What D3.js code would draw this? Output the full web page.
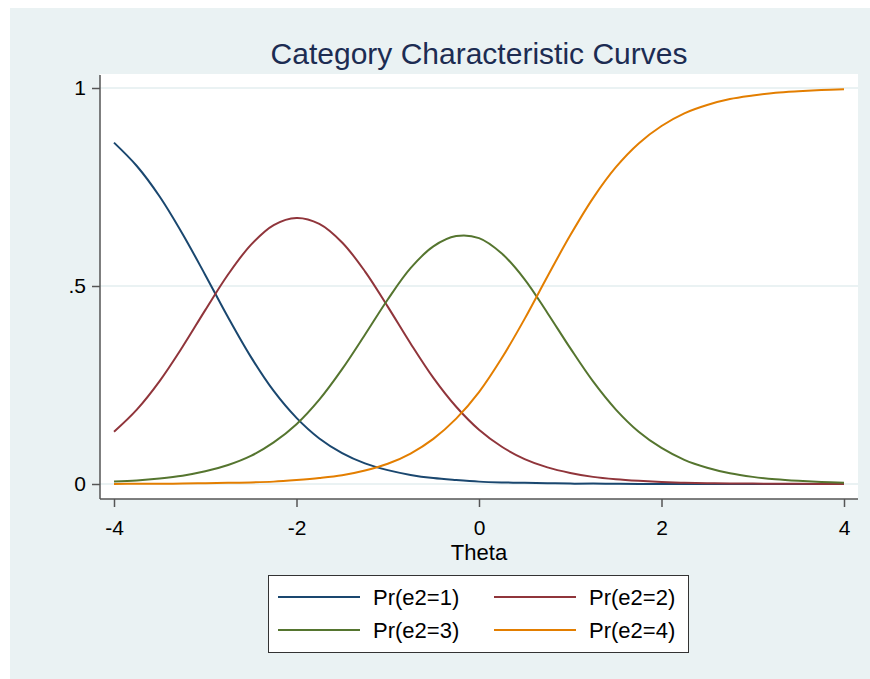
<!DOCTYPE html>
<html>
<head>
<meta charset="utf-8">
<script src="https://cdn.jsdelivr.net/npm/d3@7"></script>
<style>
  html, body { margin: 0; padding: 0; background: #fff; }
  svg { display: block; }
</style>
</head>
<body>
<script>
const width = 870, height = 679

// theta grid, read every 0.25
const theta = d3.range(33).map(i => -4 + i * 0.25)

const pr1 = [.862, .803, .726, .632, .528, .421, .321, .235, .167, .115, .078, .052, .035, .023, .015, .010,
  .006, .004, .003, .002, .001, .001, .0005, .0003, .0002, 0, 0, 0, 0, 0, 0, 0, 0]
const pr2 = [.132, .188, .260, .346, .439, .529, .604, .654, .672, .657, .610, .537, .448, .355, .268, .195,
  .137, .094, .063, .042, .028, .018, .012, .008, .005, .003, .002, .0015, .001, .0006, .0004, .0003, .0002]
const pr3 = [.006, .009, .014, .021, .032, .048, .071, .105, .151, .213, .290, .377, .466, .545, .600, .626,
  .621, .582, .517, .432, .343, .259, .188, .132, .091, .061, .041, .027, .018, .012, .008, .005, .003]
const pr4 = [.0003, .0005, .0007, .001, .002, .003, .004, .006, .010, .015, .022, .034, .051, .077, .114, .165,
  .232, .318, .417, .524, .628, .722, .800, .860, .904, .936, .957, .972, .981, .988, .992, .995, .997]

const seriesNames = ['Pr(e2=1)', 'Pr(e2=2)', 'Pr(e2=3)', 'Pr(e2=4)']
const seriesValues = [pr1, pr2, pr3, pr4]
const colors = ['#1a476f', '#90353b', '#55752f', '#e37e00']

const xTicks = [-4, -2, 0, 2, 4]
const yTicks = [0, .5, 1]
const yTickLabels = ['0', '.5', '1']

const x = d3.scaleLinear().domain([-4, 4]).range([114, 844])
const y = d3.scaleLinear().domain([0, 1]).range([484, 88])

const svg = d3.select('body')
  .append('svg')
  .attr('width', width)
  .attr('height', height)
  .style('font-family', 'Arial, "Liberation Sans", sans-serif')

// outer background
svg.append('rect')
  .attr('x', 10).attr('y', 8)
  .attr('width', width - 10).attr('height', height - 8)
  .attr('fill', '#eaf2f3')

// plot region
svg.append('rect')
  .attr('x', 100).attr('y', 74)
  .attr('width', 758).attr('height', 425)
  .attr('fill', '#fff')

svg.append('g')
  .selectAll('line').data(yTicks).enter()
  .append('line')
  .attr('x1', 100).attr('x2', 858)
  .attr('y1', d => y(d)).attr('y2', d => y(d))
  .attr('stroke', '#eaf2f3')
  .attr('stroke-width', 2)

svg.append('text')
  .attr('x', 479).attr('y', 64)
  .attr('text-anchor', 'middle')
  .attr('font-size', 30)
  .attr('fill', '#1c2c52')
  .text('Category Characteristic Curves')

const line = d3.line()
  .x((d, i) => x(theta[i]))
  .y(d => y(d))
  .curve(d3.curveCatmullRom.alpha(0.5))

svg.append('g')
  .selectAll('path').data(seriesValues).enter()
  .append('path')
  .attr('d', d => line(d))
  .attr('fill', 'none')
  .attr('stroke', (d, i) => colors[i])
  .attr('stroke-width', 2)

// axes
const axisColor = '#555'

const yAxis = svg.append('g')
  .attr('transform', 'translate(100,0)')
  .call(d3.axisLeft(y).tickValues(yTicks).tickFormat((d, i) => yTickLabels[i]).tickSize(8).tickPadding(6))
yAxis.select('.domain').remove()

const xAxis = svg.append('g')
  .attr('transform', 'translate(0,499)')
  .call(d3.axisBottom(x).tickValues(xTicks).tickSize(8).tickPadding(13))
xAxis.select('.domain').remove()

svg.selectAll('.tick line')
  .attr('stroke', axisColor)
  .attr('stroke-width', 1.5)
svg.selectAll('.tick text')
  .attr('fill', '#000')
  .attr('font-size', 21)
  .style('font-family', 'Arial, "Liberation Sans", sans-serif')
xAxis.selectAll('.tick text').text(d => d < 0 ? '-' + Math.abs(d) : d)

svg.append('line')
  .attr('x1', 100).attr('x2', 100)
  .attr('y1', 75).attr('y2', 499)
  .attr('stroke', axisColor).attr('stroke-width', 1.5)
svg.append('line')
  .attr('x1', 100).attr('x2', 858)
  .attr('y1', 499).attr('y2', 499)
  .attr('stroke', axisColor).attr('stroke-width', 1.5)

svg.append('text')
  .attr('x', 479).attr('y', 560)
  .attr('text-anchor', 'middle')
  .attr('font-size', 22)
  .text('Theta')

// legend
const legend = svg.append('g')

legend.append('rect')
  .attr('x', 268.5).attr('y', 575.5)
  .attr('width', 420).attr('height', 77)
  .attr('fill', '#fff')
  .attr('stroke', '#333')
  .attr('stroke-width', 1)

const items = legend.selectAll('g.item').data(seriesNames).enter()
  .append('g')
  .attr('class', 'item')
  .attr('transform', (d, i) => `translate(${i % 2 ? 494 : 278},${i < 2 ? 597 : 630})`)

items.append('line')
  .attr('x1', 0).attr('x2', 82)
  .attr('stroke', (d, i) => colors[i])
  .attr('stroke-width', 2)

items.append('text')
  .attr('x', 95).attr('y', 8)
  .attr('font-size', 22)
  .text(d => d)
</script>
</body>
</html>
